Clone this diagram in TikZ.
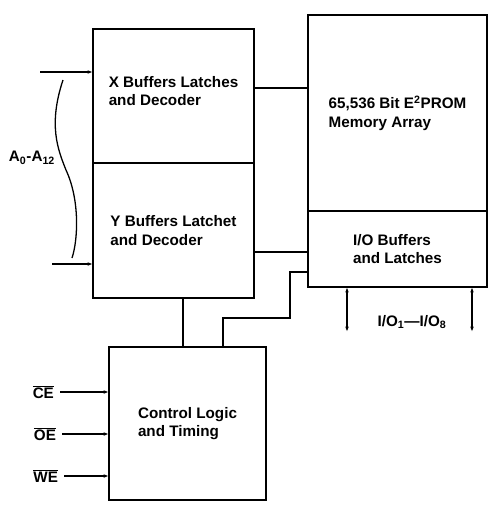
\documentclass[tikz,border=0pt]{standalone}
\usepackage{fontspec}
\setmainfont{Liberation Sans}
\usepackage{tikz}
\usetikzlibrary{positioning, arrows.meta, calc}
\newcommand{\ovl}[1]{$\overline{\mbox{#1}}$}

\begin{document}
\begin{tikzpicture}[
  x=0.03cm, y=-0.03cm,
  font=\bfseries\fontsize{13}{16}\selectfont,
  every node/.style={align=left},
  blk/.style={rectangle, draw=black, line width=2pt, fill=white,
              outer sep=0pt, inner sep=3pt, anchor=north west},
  wire/.style={line width=1.1pt},
  arr/.style={-{Latex[length=1.6mm, width=1.1mm]}, line width=1.1pt},
  bidir/.style={{Latex[length=1.6mm, width=1.1mm]}-{Latex[length=1.6mm, width=1.1mm]},
                line width=1.1pt},
  sig/.style={inner sep=1pt}
]
\useasboundingbox (0,0) rectangle (494,505);

% --- address decoder column ---
\node[blk, minimum width=4.83cm, minimum height=4.02cm] at (93,29) (xb) {};
\node[blk, minimum width=4.83cm, minimum height=4.05cm,
      below=0pt of xb.south west, anchor=north west] (yb) {%
  Y Buffers Latchet\\
  and Decoder};
\node at ($(xb.center)+(0,-5)$) (xtxt) {%
  X Buffers Latches\\
  and Decoder};

% --- memory column ---
\node[blk, minimum width=5.37cm, minimum height=5.88cm] at (308,15) (mem) {%
  65,536 Bit E\textsuperscript{2}PROM\\
  Memory Array};
\node[blk, minimum width=5.37cm, minimum height=2.28cm,
      below=0pt of mem.south west, anchor=north west] (io) {%
  I/O Buffers\\
  and Latches};

% --- control ---
\node[blk, minimum width=4.71cm, minimum height=4.59cm] at (109,347) (ctl) {%
  Control Logic\\
  and Timing};

% --- address inputs ---
\coordinate (ain1) at (40,72);
\coordinate (ain2) at (52,264);
\coordinate (brtop) at (63,80);
\coordinate (brbot) at (72,258);
\draw[arr] (ain1) -- (ain1 -| xb.west);
\draw[arr] (ain2) -- (ain2 -| yb.west);
\draw[wire] (brtop) .. controls (48,125) and (58,150) .. (66,170)
                    .. controls (80,200) and (78,240) .. (brbot);
\node at (32,158) (alab) {A\textsubscript{0}-A\textsubscript{12}};

% --- control inputs ---
\coordinate (ce) at (60,392);
\coordinate (oe) at (62,434);
\coordinate (we) at (64,476);
\node[sig, left=4pt of ce] (celab) {\ovl{CE}};
\node[sig, left=4pt of oe] (oelab) {\ovl{OE}};
\node[sig, left=4pt of we] (welab) {\ovl{WE}};
\draw[arr] (ce) -- (ce -| ctl.west);
\draw[arr] (oe) -- (oe -| ctl.west);
\draw[arr] (we) -- (we -| ctl.west);

% --- internal wiring ---
\coordinate (xm) at ($(xb.north east)+(0,59)$);
\draw[wire] (xm) -- (xm -| mem.west);
\coordinate (yio) at ($(yb.south east)+(0,-46)$);
\draw[wire] (yio) -- (yio -| io.west);
\coordinate (yc) at ($(yb.south west)+(90,0)$);
\draw[wire] (yc) -- (yc |- ctl.north);
\coordinate (cs) at ($(ctl.north west)+(114,0)$);
\coordinate (cio) at ($(io.north west)+(0,61)$);
\draw[wire] (cs) -- ++(0,-29) -| ($(cio)+(-18,0)$) -- (cio);

% --- data lines ---
\coordinate (o1) at ($(io.south west)+(39,0)$);
\coordinate (o2) at ($(io.south west)+(164,0)$);
\coordinate (o1e) at ($(o1)+(0,45)$);
\coordinate (o2e) at ($(o2)+(0,45)$);
\draw[bidir] (o1) -- (o1e);
\draw[bidir] (o2) -- (o2e);
\node at (412,322) (iolab) {I/O\textsubscript{1}---I/O\textsubscript{8}};
\end{tikzpicture}
\end{document}
